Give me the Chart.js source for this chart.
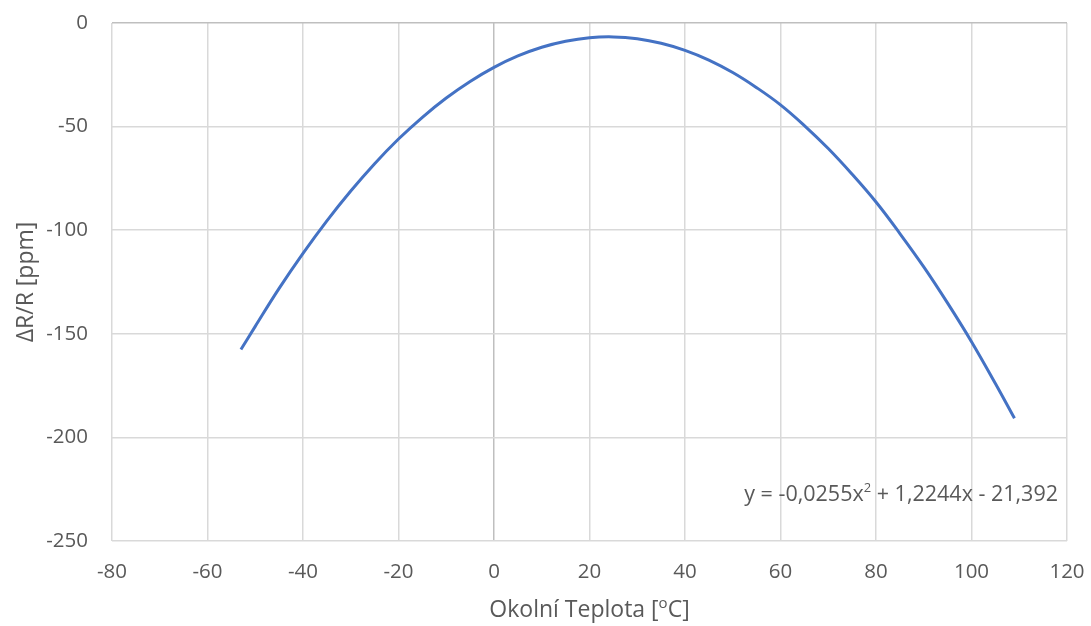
<!DOCTYPE html>
<html>
<head>
<meta charset="utf-8">
<script src="https://cdn.jsdelivr.net/npm/chart.js@4/dist/chart.umd.min.js"></script>
<style>
  html, body { margin: 0; padding: 0; background: #ffffff; }
  #wrap { width: 1091px; height: 626px; }
</style>
</head>
<body>
<div id="wrap"><canvas id="c" width="1091" height="626"></canvas></div>
<script>
// Ambient temperature [°C] and measured resistance change [ppm]
const temperature = [-53, -50, -45, -40, -35, -30, -25, -20, -15, -10, -5, 0, 5, 10, 15, 20, 25, 30, 35, 40, 45, 50, 55, 60, 65, 70, 75, 80, 85, 90, 95, 100, 105, 109];
const deltaR = [-157.6, -146.4, -128.1, -111.2, -95.5, -81.1, -67.9, -56.0, -45.5, -36.2, -28.2, -21.4, -15.9, -11.7, -8.8, -7.1, -6.7, -7.6, -9.8, -13.2, -17.9, -23.9, -31.2, -39.5, -49.5, -60.6, -73.0, -86.4, -101.6, -117.7, -135.2, -153.8, -174.0, -190.8];

const xTicks = [-80, -60, -40, -20, 0, 20, 40, 60, 80, 100, 120];
const yTicks = [0, -50, -100, -150, -200, -250];

const xTitleParts = ['Okolní Teplota [', 'o', 'C]'];
const yTitle = 'ΔR/R [ppm]';
const trendParts = ['y = -0,0255x', '2', ' + 1,2244x - 21,392'];

const FONT = '"Open Sans", Lato, sans-serif';
const TEXT = '#595959';
const GRID = '#d9d9d9';
const AXIS = '#bfbfbf';

const points = temperature.map((t, i) => ({ x: t, y: deltaR[i] }));

// Draws a run of text pieces where every second piece is a raised superscript
function drawRich(ctx, parts, x, base, big, small, rise, align) {
  const widths = parts.map((p, i) => { ctx.font = i % 2 ? small : big; return ctx.measureText(p).width; });
  const total = widths.reduce((a, b) => a + b, 0);
  let cx = align === 'right' ? x - total : align === 'center' ? x - total / 2 : x;
  parts.forEach((p, i) => {
    ctx.font = i % 2 ? small : big;
    ctx.fillText(p, cx, i % 2 ? base - rise : base);
    cx += widths[i];
  });
}

// Regression equation in the lower right of the plot area, and the x-axis title
const annotations = {
  id: 'annotations',
  afterDraw(chart) {
    const { ctx, chartArea } = chart;
    ctx.save();
    ctx.fillStyle = TEXT;
    ctx.textBaseline = 'alphabetic';
    drawRich(ctx, trendParts, chartArea.right - 9, chartArea.bottom - 40,
      '21.5px ' + FONT, '13px ' + FONT, 9, 'right');
    drawRich(ctx, xTitleParts, (chartArea.left + chartArea.right) / 2, 617,
      '23px ' + FONT, '15px ' + FONT, 9, 'center');
    ctx.restore();
  }
};

new Chart(document.getElementById('c'), {
  type: 'scatter',
  data: {
    datasets: [{
      data: points,
      showLine: true,
      borderColor: '#4472C4',
      borderWidth: 3,
      pointRadius: 0,
      pointHoverRadius: 0,
      tension: 0.4,
      fill: false
    }]
  },
  options: {
    responsive: false,
    animation: false,
    devicePixelRatio: 1,
    layout: { padding: { top: 23, right: 24, left: 0, bottom: 0 } },
    plugins: { legend: { display: false }, tooltip: { enabled: false } },
    scales: {
      x: {
        type: 'linear',
        min: -80, max: 120,
        afterBuildTicks(axis) { axis.ticks = xTicks.map(v => ({ value: v })); },
        afterFit(axis) { axis.height = 85; axis.paddingLeft = 0; axis.paddingRight = 0; },
        ticks: { color: TEXT, font: { family: FONT, size: 20.5 }, padding: 19, maxRotation: 0 },
        grid: {
          drawTicks: false,
          color: c => (c.tick && c.tick.value === 0 ? AXIS : GRID),
          lineWidth: 1.5
        },
        border: { display: false }
      },
      y: {
        type: 'linear',
        min: -250, max: 0,
        afterBuildTicks(axis) { axis.ticks = yTicks.map(v => ({ value: v })); },
        afterFit(axis) { axis.width = 112; axis.paddingTop = 0; axis.paddingBottom = 0; },
        ticks: { color: TEXT, font: { family: FONT, size: 20.5 }, padding: 24 },
        grid: {
          drawTicks: false,
          color: c => (c.tick && c.tick.value === 0 ? AXIS : GRID),
          lineWidth: 1.5
        },
        border: { display: false },
        title: { display: true, text: yTitle, color: TEXT, font: { family: FONT, size: 23 }, padding: { top: 13, bottom: 0 } }
      }
    }
  },
  plugins: [annotations]
});
</script>
</body>
</html>
